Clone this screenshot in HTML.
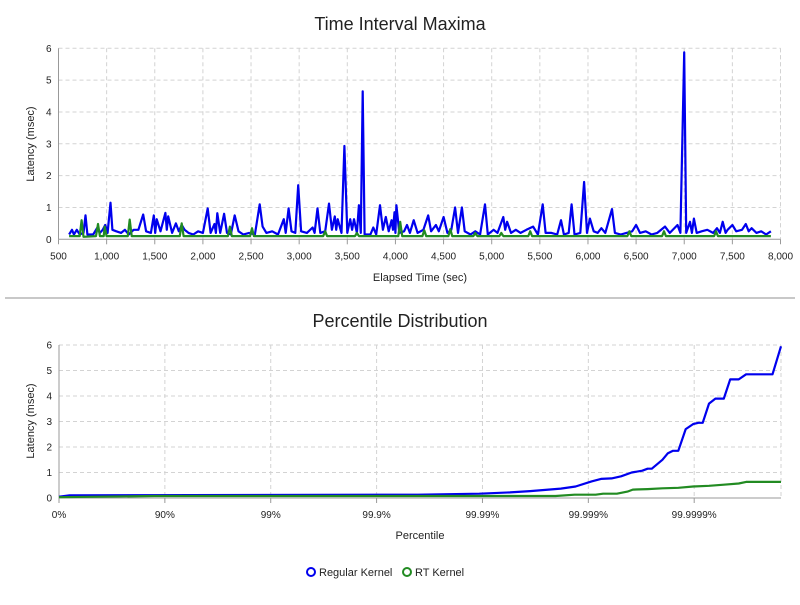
<!DOCTYPE html>
<html><head><meta charset="utf-8"><style>
body{margin:0;background:#fff;width:800px;height:600px;overflow:hidden;font-family:"Liberation Sans",sans-serif}
</style></head><body>
<svg id="chart" width="800" height="600" xmlns="http://www.w3.org/2000/svg" font-family="Liberation Sans, sans-serif">
<text x="400" y="30" text-anchor="middle" font-size="18" fill="#222">Time Interval Maxima</text>
<text transform="translate(34,144) rotate(-90)" text-anchor="middle" font-size="11" fill="#222">Latency (msec)</text>
<text x="420" y="281" text-anchor="middle" font-size="11" fill="#222">Elapsed Time (sec)</text>
<line x1="5" y1="298" x2="795" y2="298" stroke="#c8c8c8" stroke-width="2"/>
<text x="400" y="327" text-anchor="middle" font-size="18" fill="#222">Percentile Distribution</text>
<text transform="translate(34,421) rotate(-90)" text-anchor="middle" font-size="11" fill="#222">Latency (msec)</text>
<text x="420" y="539" text-anchor="middle" font-size="11" fill="#222">Percentile</text>
<g>
<g><circle cx="311" cy="572" r="4" fill="none" stroke="#0000ee" stroke-width="2"/><text x="319" y="576" font-size="11" fill="#222">Regular Kernel</text></g>
<g><circle cx="407" cy="572" r="4" fill="none" stroke="#228b22" stroke-width="2"/><text x="415" y="576" font-size="11" fill="#222">RT Kernel</text></g>
</g>
</svg>
<script>
const topXTicks=[500,1000,1500,2000,2500,3000,3500,4000,4500,5000,5500,6000,6500,7000,7500,8000];
const topXTickLabels=["500","1,000","1,500","2,000","2,500","3,000","3,500","4,000","4,500","5,000","5,500","6,000","6,500","7,000","7,500","8,000"];
const yTicks=[0,1,2,3,4,5,6];
const regularTimes=[610,640,660,690,720,760,780,800,860,900,930,960,985,1010,1040,1060,1100,1150,1190,1230,1280,1330,1380,1410,1460,1490,1505,1520,1560,1610,1625,1640,1680,1720,1750,1780,1810,1850,1900,1950,2000,2050,2080,2120,2135,2150,2180,2220,2250,2290,2330,2370,2420,2480,2540,2590,2620,2660,2720,2780,2840,2860,2890,2920,2960,2990,3020,3080,3140,3160,3190,3220,3270,3310,3340,3370,3385,3400,3440,3470,3500,3530,3550,3570,3600,3620,3640,3660,3680,3740,3770,3800,3840,3870,3900,3930,3960,3975,3990,4000,4010,4040,4090,4120,4150,4190,4230,4290,4340,4370,4420,4450,4500,4540,4580,4620,4650,4690,4720,4780,4830,4880,4930,4960,5020,5060,5120,5140,5160,5200,5250,5300,5360,5430,5480,5530,5560,5620,5680,5720,5750,5800,5830,5860,5920,5960,5990,6020,6060,6100,6140,6180,6250,6280,6340,6400,6460,6500,6540,6600,6660,6720,6800,6850,6930,6960,7000,7020,7060,7080,7100,7130,7180,7240,7300,7340,7370,7400,7430,7450,7500,7540,7600,7640,7670,7700,7750,7800,7850,7900];
const regularMax=[.15,.3,.15,.3,.15,.2,.75,.15,.15,.35,.2,.3,.45,.2,1.15,.3,.25,.2,.3,.15,.3,.3,.78,.25,.2,.75,.2,.63,.25,.83,.3,.72,.2,.5,.25,.45,.3,.2,.15,.25,.2,.97,.2,.48,.2,.82,.2,.8,.2,.15,.75,.25,.15,.2,.15,1.1,.4,.2,.25,.15,.63,.2,.97,.25,.2,1.7,.25,.2,.37,.2,.97,.2,.25,1.12,.3,.72,.3,.63,.2,2.93,.2,.63,.3,.63,.2,1.07,.2,4.65,.15,.15,.37,.15,1.07,.3,.7,.25,.6,.3,.85,.2,1.07,.2,.25,.45,.2,.6,.2,.3,.75,.25,.45,.25,.7,.2,.3,1.0,.2,1.0,.25,.15,.25,.15,1.1,.15,.3,.2,.7,.3,.55,.2,.3,.2,.3,.4,.15,1.1,.2,.2,.15,.6,.15,.2,1.1,.15,.2,1.8,.2,.65,.25,.2,.35,.2,.95,.2,.15,.2,.25,.45,.2,.25,.15,.2,.4,.2,.45,.2,5.87,.2,.55,.2,.65,.2,.25,.3,.2,.35,.2,.55,.2,.3,.45,.25,.3,.48,.25,.35,.2,.25,.15,.25];
const rtTimes=[610,720,740,760,890,910,930,970,980,1000,1220,1240,1260,1760,1780,1800,2260,2280,2300,2490,2510,2530,3250,3270,3290,3580,3600,3620,4030,4050,4070,4280,4300,4320,4550,4570,4590,4810,4830,4850,5080,5100,5120,5380,5400,5420,6410,6430,6450,6770,6790,6810,7310,7330,7350,7900];
const rtMax=[.1,.1,.6,.08,.1,.48,.1,.1,.4,.1,.1,.62,.1,.1,.5,.1,.1,.4,.1,.1,.35,.1,.1,.25,.1,.1,.2,.1,.1,.55,.1,.1,.28,.1,.1,.32,.1,.1,.2,.1,.1,.2,.1,.1,.25,.1,.1,.25,.1,.1,.25,.1,.1,.25,.1,.1];
const pctTicks=[0,1,2,3,4,5,6];
const pctTickLabels=["0%","90%","99%","99.9%","99.99%","99.999%","99.9999%"];
const regularNines=[0,0.1,3.39,3.97,4.26,4.45,4.74,4.88,5.03,5.12,5.22,5.31,5.41,5.51,5.56,5.6,5.7,5.75,5.8,5.85,5.92,5.99,6.04,6.08,6.14,6.2,6.28,6.34,6.42,6.49,6.74,6.82];
const regularPct=[0.05,0.1,0.13,0.17,0.22,0.27,0.37,0.45,0.65,0.75,0.77,0.85,1.0,1.07,1.15,1.15,1.5,1.75,1.85,1.85,2.7,2.9,2.95,2.95,3.7,3.9,3.9,4.65,4.65,4.85,4.85,5.95];
const rtNines=[0,0.9,4.69,4.87,5.07,5.14,5.27,5.37,5.42,5.56,5.7,5.85,5.99,6.14,6.28,6.42,6.49,6.82];
const rtPct=[0.03,0.08,0.08,0.13,0.13,0.17,0.17,0.25,0.33,0.35,0.38,0.4,0.45,0.48,0.52,0.57,0.63,0.63];

const svg=document.getElementById('chart');
const NS='http://www.w3.org/2000/svg';
function mk(tag,attrs,parent){const e=document.createElementNS(NS,tag);for(const k in attrs)e.setAttribute(k,attrs[k]);(parent||svg).appendChild(e);return e;}
function panel(name,L,R,T,B,xmin,xmax,xt,xl,s1x,s1y,s2x,s2y){
  const X=v=>L+(v-xmin)/(xmax-xmin)*(R-L);
  const Y=v=>B-v/6*(B-T);
  const g=mk('g',{});
  
  
  yTicks.forEach(t=>{
    if(t>0){const l=mk('line',{x1:L,x2:R,y1:Y(t),y2:Y(t),stroke:'#d3d3d3','stroke-dasharray':'4,3'},g);
    
    }
    const tx=mk('text',{x:L-7,y:Y(t)+3.5,'text-anchor':'end','font-size':'10',fill:'#222'},g);
    
    
    tx.textContent=t;
  });
  xt.forEach((t,i)=>{
    const x=X(t);
    if(i>0){const l=mk('line',{x1:x,x2:x,y1:T,y2:B,stroke:'#d3d3d3','stroke-dasharray':'4,3'},g);
    
    }
    mk('line',{x1:x,x2:x,y1:B,y2:B+5,stroke:'#999'},g);
    const tx=mk('text',{x:x,y:B+20,'text-anchor':'middle','font-size':'10',fill:'#222'},g);
    
    
    tx.textContent=xl[i];
  });
  mk('line',{x1:R,x2:R,y1:T,y2:B,stroke:'#d3d3d3','stroke-dasharray':'4,3'},g);
  mk('line',{x1:L,x2:L,y1:T,y2:B,stroke:'#999'},g);
  mk('line',{x1:L,x2:R,y1:B,y2:B,stroke:'#999'},g);
  const d2=s2x.map((v,i)=>(i?'L':'M')+X(v).toFixed(1)+','+Y(s2y[i]).toFixed(1)).join('');
  const d1=s1x.map((v,i)=>(i?'L':'M')+X(v).toFixed(1)+','+Y(s1y[i]).toFixed(1)).join('');
  const p1=mk('path',{d:d1,fill:'none',stroke:'#0000ee','stroke-width':2.2,'stroke-linejoin':'round'},g);
  
  
  const p2=mk('path',{d:d2,fill:'none',stroke:'#228b22','stroke-width':2.2,'stroke-linejoin':'round'},g);
  
  
}
panel('time-interval',58.5,780.5,48.3,239.3,500,8000,topXTicks,topXTickLabels,regularTimes,regularMax,rtTimes,rtMax);
panel('percentile',59,781,345,498,0,6.82,pctTicks,pctTickLabels,regularNines,regularPct,rtNines,rtPct);
</script>
</body></html>
